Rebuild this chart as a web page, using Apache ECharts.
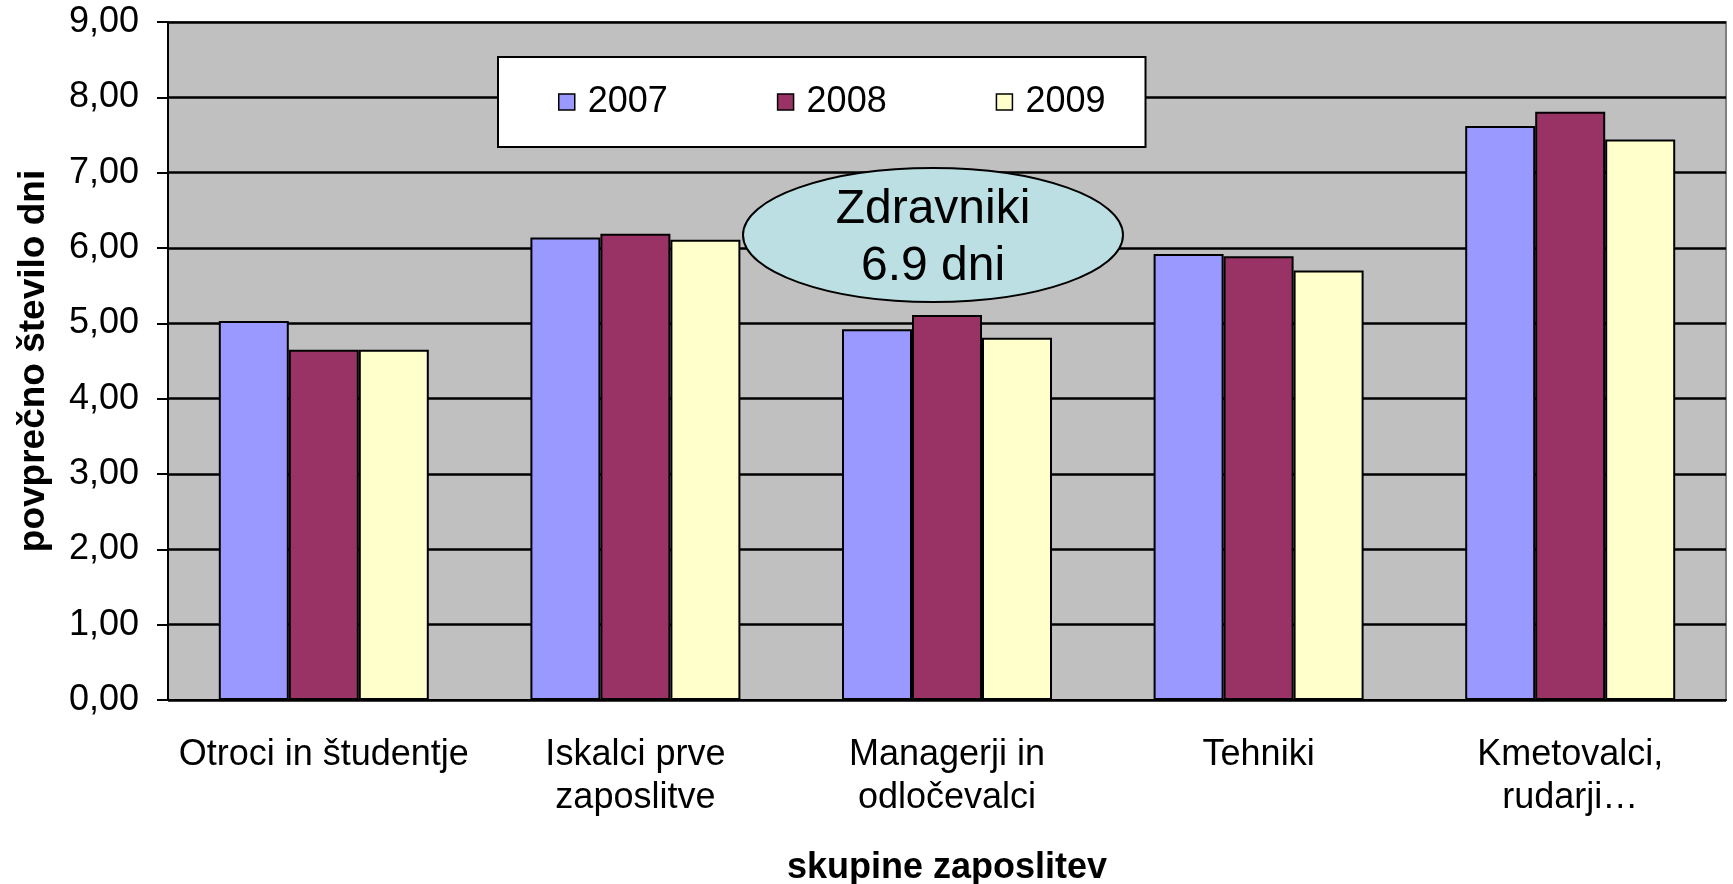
<!DOCTYPE html>
<html lang="sl">
<head>
<meta charset="UTF-8">
<title>Povprečno število dni</title>
<script src="https://cdn.jsdelivr.net/npm/echarts@6/dist/echarts.min.js"></script>
<style>
  html, body { margin: 0; padding: 0; background: #fff; }
  #main { width: 1733px; height: 884px; }
</style>
</head>
<body>
<div id="main"></div>
<script type="text/javascript">
// skupine zaposlitev
var categories = ['Otroci in študentje', 'Iskalci prve\nzaposlitve', 'Managerji in\nodločevalci', 'Tehniki', 'Kmetovalci,\nrudarji…'];
var years = ['2007', '2008', '2009'];
var v2007 = [5.03, 6.14, 4.92, 5.92, 7.62];
var v2008 = [4.65, 6.19, 5.11, 5.89, 7.81];
var v2009 = [4.65, 6.11, 4.81, 5.70, 7.44];
var colors = ['#9999FF', '#993366', '#FFFFCC'];
var note = 'Zdravniki\n6.9 dni';

var font = 'Liberation Sans, Arial, sans-serif';
var chart = echarts.init(document.getElementById('main'));

function barSeries(name, data, color) {
  return {
    name: name,
    type: 'bar',
    data: data,
    barWidth: 70,
    barGap: '0%',
    itemStyle: { color: color, borderColor: '#000', borderWidth: 2 }
  };
}

var option = {
  animation: false,
  textStyle: { fontFamily: font },
  grid: {
    left: 168, right: 7, top: 22, bottom: 184,
    outerBoundsMode: 'none',
    containLabel: false,
    show: true, backgroundColor: '#C0C0C0', borderColor: '#808080', borderWidth: 2
  },
  legend: {
    data: years,
    left: 498, top: 57,
    padding: [27, 40, 27, 60],
    itemGap: 109,
    itemWidth: 16, itemHeight: 16,
    icon: 'rect',
    backgroundColor: '#fff',
    borderColor: '#000',
    borderWidth: 2,
    textStyle: { fontSize: 36, color: '#000', fontFamily: font, padding: [0, 0, 0, 8] },
    itemStyle: { borderColor: '#000', borderWidth: 1.5 }
  },
  xAxis: {
    type: 'category',
    data: categories,
    name: 'skupine zaposlitev',
    nameLocation: 'middle',
    nameGap: 150,
    nameTextStyle: { fontSize: 36, fontWeight: 'bold', color: '#000', fontFamily: font },
    axisLine: { lineStyle: { color: '#000', width: 2 } },
    axisTick: { length: 10, lineStyle: { color: '#000', width: 2 } },
    axisLabel: { fontSize: 36, color: '#000', lineHeight: 43, margin: 34, interval: 0, fontFamily: font }
  },
  yAxis: {
    type: 'value',
    min: 0, max: 9, interval: 1,
    name: 'povprečno število dni',
    nameLocation: 'middle',
    nameGap: 116,
    nameTextStyle: { fontSize: 37, fontWeight: 'bold', color: '#000', fontFamily: font },
    axisLine: { show: true, lineStyle: { color: '#000', width: 2 } },
    axisTick: { show: true, length: 11, lineStyle: { color: '#000', width: 2 } },
    axisLabel: {
      fontSize: 36, color: '#000', margin: 29, fontFamily: font,
      formatter: function (v) { return v.toFixed(2).replace('.', ','); }
    },
    splitLine: { lineStyle: { color: '#000', width: 2.5 } }
  },
  series: [
    barSeries(years[0], v2007, colors[0]),
    barSeries(years[1], v2008, colors[1]),
    barSeries(years[2], v2009, colors[2])
  ],
  graphic: [{
    type: 'group',
    left: 742, top: 167,
    z: 100,
    children: [{
      type: 'ellipse',
      z: 100,
      shape: { cx: 190, cy: 67, rx: 190, ry: 67 },
      style: { fill: '#BBDFE3', stroke: '#000', lineWidth: 2 }
    }, {
      type: 'text',
      z: 101,
      x: 190, y: 70,
      style: {
        text: note, fontSize: 48, lineHeight: 57, fill: '#000',
        fontFamily: font, align: 'center', verticalAlign: 'middle'
      }
    }]
  }]
};

chart.setOption(option);
</script>
</body>
</html>
